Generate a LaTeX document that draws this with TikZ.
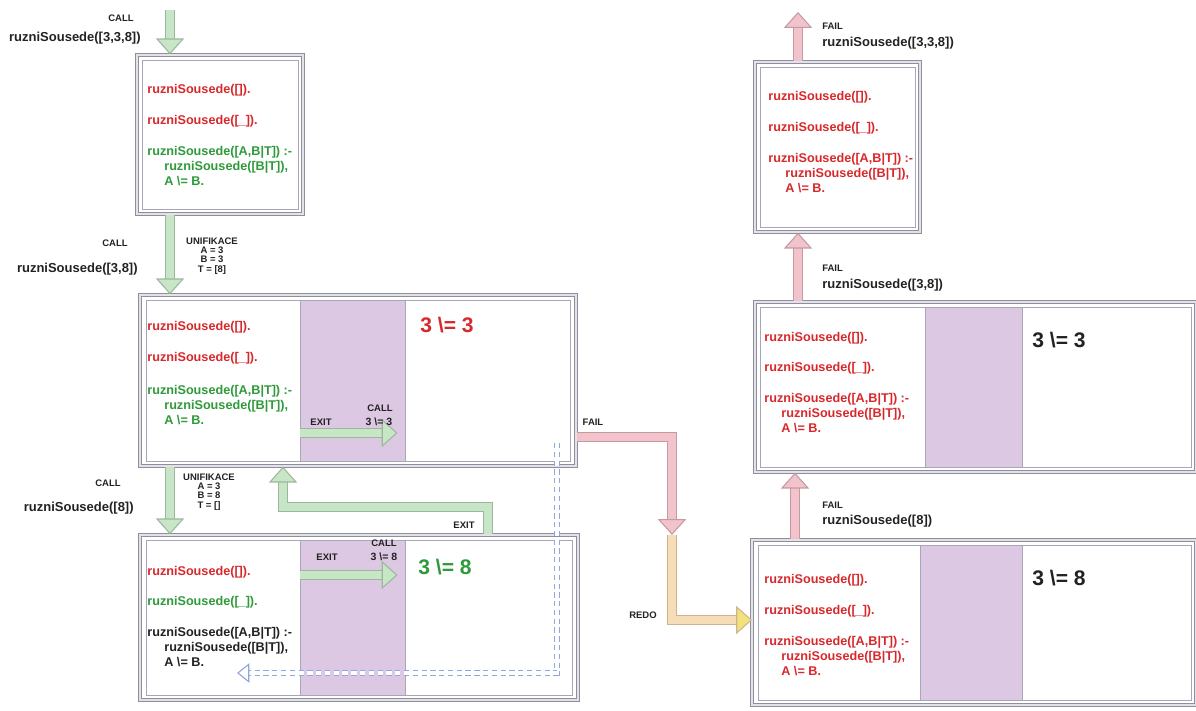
\documentclass[tikz,border=0pt]{standalone}
\usepackage{fontspec}
\setmainfont{Liberation Sans}
\usepackage{xcolor}
\definecolor{cFrame}{HTML}{8E8E9E}
\definecolor{cPanel}{HTML}{A6A6B6}
\definecolor{cLilac}{HTML}{DCC8E2}
\definecolor{cRed}{HTML}{D8282C}
\definecolor{cGreen}{HTML}{2E9A3A}
\definecolor{cInk}{HTML}{222222}
\definecolor{cCallFill}{HTML}{C6E6C6}
\definecolor{cCallEdge}{HTML}{9FB59F}
\definecolor{cFailFill}{HTML}{F3C3CB}
\definecolor{cFailEdge}{HTML}{C49AA2}
\definecolor{cRedoFill}{HTML}{F6DDB8}
\definecolor{cRedoEdge}{HTML}{CDB48E}
\definecolor{cRedoTip}{HTML}{F2E27C}
\definecolor{cBack}{HTML}{8FA6E0}
\usepackage{tikz}
\usetikzlibrary{positioning,arrows.meta,fit,calc}
\tikzset{
  box-frame/.style={draw=cFrame,line width=0.8pt,double=cFrame!25,
    double distance=0.8pt,fill=white,inner sep=0pt},
  box-panel/.style={draw=cPanel,line width=0.5pt,fill=white,inner sep=0pt},
  box-gap/.style={draw=cPanel,line width=0.5pt,fill=cLilac,inner sep=0pt},
  code/.style={font=\fontsize{7.2}{8.6}\selectfont\bfseries,align=left,
    anchor=west,inner sep=0pt},
  code-red/.style={code,text=cRed},
  code-green/.style={code,text=cGreen},
  code-ink/.style={code,text=cInk},
  tag/.style={font=\fontsize{5.4}{5.3}\selectfont\bfseries,align=center,
    inner sep=0pt,text=cInk},
  goal/.style={font=\fontsize{7.4}{9}\selectfont\bfseries,inner sep=0pt,
    text=cInk},
  test-small/.style={font=\fontsize{6}{7}\selectfont\bfseries,inner sep=0pt,
    text=cInk},
  test/.style={font=\fontsize{12}{14}\selectfont\bfseries,anchor=west,
    inner sep=0pt},
  port-call/.style={draw=cCallEdge,line width=0.6pt,double=cCallFill,
    double distance=5pt,
    -{Triangle[width=16pt,length=9pt,fill=cCallFill,color=cCallEdge,line width=0.6pt]}},
  port-fail/.style={draw=cFailEdge,line width=0.6pt,double=cFailFill,
    double distance=5pt,
    -{Triangle[width=16pt,length=9pt,fill=cFailFill,color=cFailEdge,line width=0.6pt]}},
  port-redo/.style={draw=cRedoEdge,line width=0.6pt,double=cRedoFill,
    double distance=5pt,
    -{Triangle[width=16pt,length=9pt,fill=cRedoTip,color=cRedoEdge,line width=0.6pt]}},
  port-back/.style={draw=cBack,line width=0.7pt,double=white,
    double distance=2.5pt,dash pattern=on 3pt off 2pt,
    -{Triangle[width=11pt,length=7pt,fill=white,color=cBack,line width=0.6pt]}},
}

\begin{document}
\begin{tikzpicture}[x=0.02cm,y=-0.02cm]
  \useasboundingbox (0,0) rectangle (1196,710);

  % levy sloupec
  \node[box-frame,fit={(137,55) (303,214)}] (topBox) {};
  \node[box-panel,fit={(142,60) (298,209)}] (topHead) {};
  \node[box-frame,fit={(140,295) (576,466)}] (midBox) {};
  \node[box-panel,fit={(146,300) (300,461)}] (midHead) {};
  \node[box-gap,fit={(300,300) (405,461)}] (midGap) {};
  \node[box-panel,fit={(405,300) (570,461)}] (midTest) {};
  \node[box-frame,fit={(140,535) (578,700)}] (lowBox) {};
  \node[box-panel,fit={(146,540) (300,695)}] (lowHead) {};
  \node[box-gap,fit={(300,540) (405,695)}] (lowGap) {};
  \node[box-panel,fit={(405,540) (572,695)}] (lowTest) {};

  % pravy sloupec
  \node[box-frame,fit={(755,62) (920,232)}] (failTop) {};
  \node[box-panel,fit={(760,67) (915,227)}] (failTopHead) {};
  \node[box-frame,fit={(755,302) (1196,472)}] (failMid) {};
  \node[box-panel,fit={(760,307) (925,467)}] (failMidHead) {};
  \node[box-gap,fit={(925,307) (1022,467)}] (failMidGap) {};
  \node[box-panel,fit={(1022,307) (1191,467)}] (failMidTest) {};
  \node[box-frame,fit={(752,540) (1196,705)}] (failLow) {};
  \node[box-panel,fit={(758,545) (920,700)}] (failLowHead) {};
  \node[box-gap,fit={(920,545) (1022,700)}] (failLowGap) {};
  \node[box-panel,fit={(1022,545) (1191,700)}] (failLowTest) {};

  % klauzule
  \node[code-red] (topC1) at (147,90) {ruzniSousede([]).};
  \node[code-red] (topC2) at (147,121) {ruzniSousede([\_]).};
  \node[code-green,anchor=north west] (topC3) at (147,146)
    {ruzniSousede([A,B|T]) :-\\\hspace*{3.4mm}ruzniSousede([B|T]),\\\hspace*{3.4mm}A \textbackslash= B.};
  \node[code-red] (midC1) at (147,327) {ruzniSousede([]).};
  \node[code-red] (midC2) at (147,358) {ruzniSousede([\_]).};
  \node[code-green,anchor=north west] (midC3) at (147,385)
    {ruzniSousede([A,B|T]) :-\\\hspace*{3.4mm}ruzniSousede([B|T]),\\\hspace*{3.4mm}A \textbackslash= B.};
  \node[code-red] (lowC1) at (147,572) {ruzniSousede([]).};
  \node[code-green] (lowC2) at (147,602) {ruzniSousede([\_]).};
  \node[code-ink,anchor=north west] (lowC3) at (147,627)
    {ruzniSousede([A,B|T]) :-\\\hspace*{3.4mm}ruzniSousede([B|T]),\\\hspace*{3.4mm}A \textbackslash= B.};
  \node[code-red] (failTopC1) at (768,97) {ruzniSousede([]).};
  \node[code-red] (failTopC2) at (768,128) {ruzniSousede([\_]).};
  \node[code-red,anchor=north west] (failTopC3) at (768,153)
    {ruzniSousede([A,B|T]) :-\\\hspace*{3.4mm}ruzniSousede([B|T]),\\\hspace*{3.4mm}A \textbackslash= B.};
  \node[code-red] (failMidC1) at (764,338) {ruzniSousede([]).};
  \node[code-red] (failMidC2) at (764,368) {ruzniSousede([\_]).};
  \node[code-red,anchor=north west] (failMidC3) at (764,393)
    {ruzniSousede([A,B|T]) :-\\\hspace*{3.4mm}ruzniSousede([B|T]),\\\hspace*{3.4mm}A \textbackslash= B.};
  \node[code-red] (failLowC1) at (764,580) {ruzniSousede([]).};
  \node[code-red] (failLowC2) at (764,611) {ruzniSousede([\_]).};
  \node[code-red,anchor=north west] (failLowC3) at (764,636)
    {ruzniSousede([A,B|T]) :-\\\hspace*{3.4mm}ruzniSousede([B|T]),\\\hspace*{3.4mm}A \textbackslash= B.};

  % testy
  \node[test,text=cRed] (midT) at (420,325) {3 \textbackslash= 3};
  \node[test,text=cGreen] (lowT) at (418,567) {3 \textbackslash= 8};
  \node[test,text=cInk] (failMidT) at (1032,340) {3 \textbackslash= 3};
  \node[test,text=cInk] (failLowT) at (1032,578) {3 \textbackslash= 8};

  % porty
  \coordinate (callIn) at (170,10);
  \coordinate (exitR) at (488,507);
  \coordinate (exitL) at (283,507);
  \coordinate (failTurn) at (672,437);
  \coordinate (failEnd) at (672,535);
  \coordinate (redoEnd) at (752,620);
  \coordinate (backTop) at (557,443);
  \coordinate (backEnd) at (237,673);
  \coordinate (failOut) at (798,12);

  \draw[port-call] (callIn) -- (callIn |- topBox.north);
  \draw[port-call] (topBox.south -| callIn) -- (midBox.north -| callIn);
  \draw[port-call] (midBox.south -| callIn) -- (lowBox.north -| callIn);
  \draw[port-call] (lowBox.north -| exitR) -- (exitR) -- (exitL) -- (midBox.south -| exitL);
  \draw[port-call] (midGap.west |- 0,433) -- ([xshift=-4]midTest.west |- 0,433);
  \draw[port-call] (lowGap.west |- 0,575) -- ([xshift=-4]lowTest.west |- 0,575);
  \draw[port-fail] (midBox.east |- failTurn) -- (failTurn) -- (failEnd);
  \draw[port-redo] (failEnd) |- (redoEnd);
  \draw[port-back] (backTop) |- (backEnd);
  \draw[port-fail] (failLow.north -| 795,0) -- (failMid.south -| 795,0);
  \draw[port-fail] (failMid.north -| 798,0) -- (failTop.south -| 798,0);
  \draw[port-fail] (failTop.north -| failOut) -- (failOut);

  % popisky
  \node[tag,anchor=east] (callTag0) at (134,18) {CALL};
  \node[goal,anchor=east] (callGoal0) at (141,38) {ruzniSousede([3,3,8])};
  \node[tag,anchor=east] (callTag1) at (128,243) {CALL};
  \node[goal,anchor=east] (callGoal1) at (138,269) {ruzniSousede([3,8])};
  \node[tag] (unif1) at (212,256) {UNIFIKACE\\A = 3\\B = 3\\T = [8]};
  \node[tag,anchor=east] (callTag2) at (121,483) {CALL};
  \node[goal,anchor=east] (callGoal2) at (134,508) {ruzniSousede([8])};
  \node[tag] (unif2) at (209,492) {UNIFIKACE\\A = 3\\B = 8\\T = []};
  \node[tag] (midExit) at (321,422) {EXIT};
  \node[tag] (midCall) at (380,408) {CALL};
  \node[test-small] (midCallT) at (379,422) {3 \textbackslash= 3};
  \node[tag] (lowExit) at (327,557) {EXIT};
  \node[tag] (lowCall) at (384,543) {CALL};
  \node[test-small] (lowCallT) at (384,557) {3 \textbackslash= 8};
  \node[tag] (backExit) at (464,525) {EXIT};
  \node[tag] (failTag) at (593,422) {FAIL};
  \node[tag] (redoTag) at (643,615) {REDO};
  \node[tag,anchor=west] (failTag0) at (822,26) {FAIL};
  \node[goal,anchor=west] (failGoal0) at (822,43) {ruzniSousede([3,3,8])};
  \node[tag,anchor=west] (failTag1) at (822,268) {FAIL};
  \node[goal,anchor=west] (failGoal1) at (822,285) {ruzniSousede([3,8])};
  \node[tag,anchor=west] (failTag2) at (822,505) {FAIL};
  \node[goal,anchor=west] (failGoal2) at (822,521) {ruzniSousede([8])};
\end{tikzpicture}
\end{document}
